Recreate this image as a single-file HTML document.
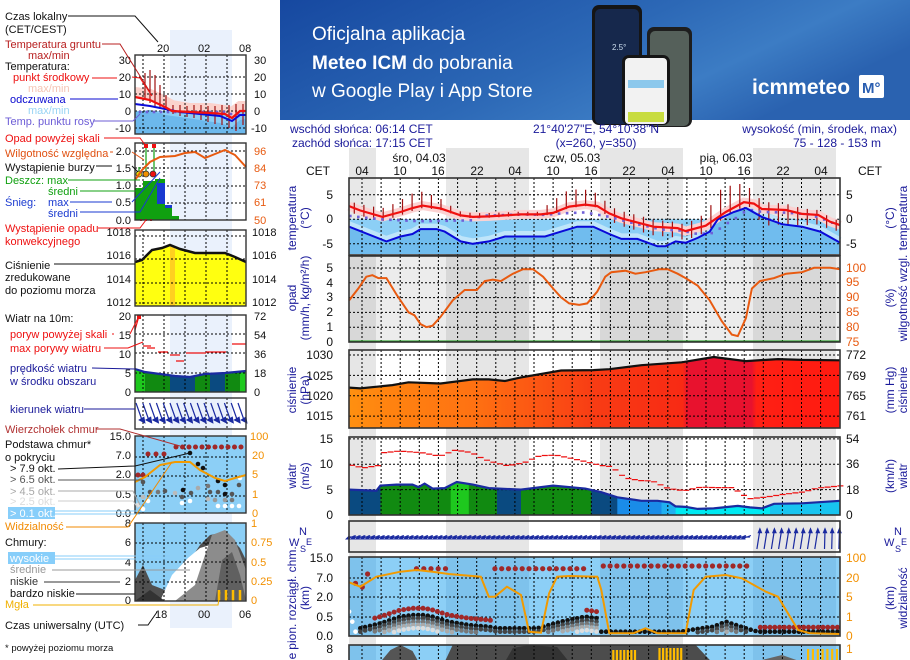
<!DOCTYPE html>
<html><head><meta charset="utf-8">
<style>
body{margin:0;width:910px;height:660px;overflow:hidden;background:#fff}
svg{display:block;font-family:"Liberation Sans",sans-serif}
.t{font-size:12px}
.l{font-size:11px}
</style></head><body>
<svg id="s" width="910" height="660" xmlns="http://www.w3.org/2000/svg">
<defs>
<linearGradient id="bn" x1="0" x2="1" y1="0" y2="0.4"><stop offset="0" stop-color="#1648a0"/><stop offset="0.55" stop-color="#2c68b6"/><stop offset="0.8" stop-color="#3c7cc4"/><stop offset="1" stop-color="#2a62b0"/></linearGradient>
<linearGradient id="pg" x1="349" x2="840" y1="0" y2="0" gradientUnits="userSpaceOnUse">
<stop offset="0" stop-color="#ff9010"/><stop offset="0.07" stop-color="#ff8410"/><stop offset="0.25" stop-color="#ff7212"/><stop offset="0.5" stop-color="#f83c14"/><stop offset="0.68" stop-color="#f82a14"/><stop offset="0.69" stop-color="#e8122e"/><stop offset="0.82" stop-color="#e8122e"/><stop offset="0.83" stop-color="#ff2014"/><stop offset="1" stop-color="#ff1a10"/></linearGradient>
<clipPath id="wc"><polygon id="wpoly" points=""/></clipPath>
</defs>
<g id="g"></g>

<rect x="280" y="0" width="630" height="120" fill="url(#bn)"/>
<text x="312" y="40" fill="#fff" font-size="19">Oficjalna aplikacja</text>
<text x="312" y="69" fill="#fff" font-size="19"><tspan font-weight="bold">Meteo ICM</tspan> do pobrania</text>
<text x="312" y="97" fill="#fff" font-size="19">w Google Play i App Store</text>
<rect x="592" y="5" width="50" height="120" rx="7" fill="#151515"/>
<rect x="595" y="9" width="44" height="115" rx="5" fill="#16284c"/>
<text x="612" y="50" fill="#cde" font-size="8">2.5°</text>
<rect x="647" y="27" width="45" height="100" rx="7" fill="#1e1e1e"/>
<rect x="650" y="31" width="39" height="95" rx="5" fill="#55605a"/>
<rect x="622" y="55" width="48" height="70" rx="7" fill="#151515"/>
<rect x="625" y="58" width="42" height="66" rx="4" fill="#f2f2f2"/>
<rect x="628" y="80" width="36" height="8" fill="#8cc8ec"/>
<rect x="628" y="112" width="36" height="10" fill="#c8dc40"/>
<text x="752" y="94" fill="#fff" font-size="21" font-weight="bold">icmmeteo</text>
<rect x="859" y="75" width="25" height="23" rx="2" fill="#fff"/>
<text x="862" y="93" fill="#2a5eb0" font-size="15" font-weight="bold">M°</text>

<g class="t" fill="#1a1a9a">
<text x="290" y="133">wschód słońca: 06:14 CET</text>
<text x="292" y="147">zachód słońca: 17:15 CET</text>
<text x="596" y="133" text-anchor="middle">21°40'27"E, 54°10'38"N</text>
<text x="596" y="147" text-anchor="middle">(x=260,  y=350)</text>
<text x="897" y="133" text-anchor="end">wysokość (min, środek, max)</text>
<text x="837" y="147" text-anchor="middle">75 - 128 - 153 m</text>
</g>
<g class="t" fill="#111" text-anchor="middle">
<text x="419" y="162">śro, 04.03</text><text x="572" y="162">czw, 05.03</text><text x="726" y="162">pią, 06.03</text>
<text x="318" y="175">CET</text><text x="870" y="175">CET</text>
<text x="362" y="175">04</text><text x="400" y="175">10</text><text x="438" y="175">16</text><text x="477" y="175">22</text><text x="515" y="175">04</text><text x="553" y="175">10</text><text x="591" y="175">16</text><text x="629" y="175">22</text><text x="668" y="175">04</text><text x="706" y="175">10</text><text x="744" y="175">16</text><text x="783" y="175">22</text><text x="821" y="175">04</text>
</g>

<g class="t" fill="#111" text-anchor="end">
<text x="333" y="199">5</text><text x="333" y="223">0</text><text x="333" y="248">-5</text>
<text x="333" y="272">5</text><text x="333" y="287">4</text><text x="333" y="301">3</text><text x="333" y="316">2</text><text x="333" y="331">1</text><text x="333" y="346">0</text>
<text x="333" y="359">1030</text><text x="333" y="380">1025</text><text x="333" y="400">1020</text><text x="333" y="420">1015</text>
<text x="333" y="443">15</text><text x="333" y="468">10</text><text x="333" y="494">5</text><text x="333" y="519">0</text>
<text x="333" y="562">15.0</text><text x="333" y="582">7.0</text><text x="333" y="601">2.0</text><text x="333" y="621">0.5</text><text x="333" y="640">0.0</text>
<text x="333" y="653">8</text>
</g>
<g class="t" fill="#111">
<text x="846" y="199">5</text><text x="846" y="223">0</text><text x="846" y="248">-5</text>
<text x="846" y="359">772</text><text x="846" y="380">769</text><text x="846" y="400">765</text><text x="846" y="420">761</text>
<text x="846" y="443">54</text><text x="846" y="468">36</text><text x="846" y="494">18</text><text x="846" y="519">0</text>
</g>
<g class="t" fill="#e85a10">
<text x="846" y="272">100</text><text x="846" y="286">95</text><text x="846" y="301">90</text><text x="846" y="316">85</text><text x="846" y="331">80</text><text x="846" y="346">75</text>
</g>
<g class="t" fill="#f29000">
<text x="846" y="562">100</text><text x="846" y="582">20</text><text x="846" y="601">5</text><text x="846" y="621">1</text><text x="846" y="640">0</text><text x="846" y="653">1</text>
</g>
<g class="t" fill="#1a1a9a" text-anchor="middle" dominant-baseline="central">
<text transform="translate(292,218) rotate(-90)">temperatura</text>
<text transform="translate(305,218) rotate(-90)">(°C)</text>
<text transform="translate(890,218) rotate(-90)">(°C)</text>
<text transform="translate(903,218) rotate(-90)">temperatura</text>
<text transform="translate(292,298) rotate(-90)">opad</text>
<text transform="translate(305,298) rotate(-90)">(mm/h, kg/m²/h)</text>
<text transform="translate(890,298) rotate(-90)">(%)</text>
<text transform="translate(903,298) rotate(-90)">wilgotność wzgl.</text>
<text transform="translate(292,390) rotate(-90)">ciśnienie</text>
<text transform="translate(305,390) rotate(-90)">(hPa)</text>
<text transform="translate(890,390) rotate(-90)">(mm Hg)</text>
<text transform="translate(903,390) rotate(-90)">ciśnienie</text>
<text transform="translate(292,476) rotate(-90)">wiatr</text>
<text transform="translate(305,476) rotate(-90)">(m/s)</text>
<text transform="translate(890,476) rotate(-90)">(km/h)</text>
<text transform="translate(903,476) rotate(-90)">wiatr</text>
<text transform="translate(292,598) rotate(-90)">pion. rozciągł. chm.</text>
<text transform="translate(305,598) rotate(-90)">(km)</text>
<text transform="translate(890,598) rotate(-90)">(km)</text>
<text transform="translate(903,598) rotate(-90)">widzialność</text>
<text transform="translate(292,656) rotate(-90)">e</text>
</g>
<g fill="#1a1a9a" font-size="11">
<text x="289" y="546">W</text><text x="299" y="535">N</text><text x="300" y="552" font-size="9">S</text><text x="306" y="545" font-size="9">E</text>
<text x="884" y="546">W</text><text x="894" y="535">N</text><text x="895" y="552" font-size="9">S</text><text x="901" y="545" font-size="9">E</text>
</g>

<g class="l">
<text x="5" y="20" fill="#111">Czas lokalny</text>
<text x="5" y="33" fill="#111">(CET/CEST)</text>
<text x="5" y="48" fill="#b82020">Temperatura gruntu</text>
<text x="28" y="59" fill="#b82020">max/min</text>
<text x="5" y="70" fill="#111">Temperatura:</text>
<text x="13" y="81" fill="#ee1010">punkt środkowy</text>
<text x="28" y="92" fill="#f5c4b4">max/min</text>
<text x="10" y="103" fill="#0a0ad0">odczuwana</text>
<text x="28" y="114" fill="#98d4f4">max/min</text>
<text x="5" y="125" fill="#6c5cd6">Temp. punktu rosy</text>
<text x="5" y="142" fill="#ee1010">Opad powyżej skali</text>
<text x="5" y="157" fill="#e05010">Wilgotność względna</text>
<text x="5" y="171" fill="#111">Wystąpienie burzy</text>
<text x="5" y="184" fill="#10a010">Deszcz: max</text>
<text x="48" y="195" fill="#10a010">średni</text>
<text x="5" y="206" fill="#1a3ad0">Śnieg:</text>
<text x="48" y="206" fill="#1a3ad0">max</text>
<text x="48" y="217" fill="#1a3ad0">średni</text>
<text x="5" y="232" fill="#ee1010">Wystąpienie opadu</text>
<text x="5" y="245" fill="#ee1010">konwekcyjnego</text>
<text x="5" y="269" fill="#111">Ciśnienie</text>
<text x="5" y="281" fill="#111">zredukowane</text>
<text x="5" y="294" fill="#111">do poziomu morza</text>
<text x="5" y="322" fill="#111">Wiatr na 10m:</text>
<text x="10" y="338" fill="#ee1010">poryw powyżej skali</text>
<text x="10" y="352" fill="#ee1010">max porywy wiatru</text>
<text x="10" y="372" fill="#1a1a9a">prędkość wiatru</text>
<text x="10" y="385" fill="#1a1a9a">w środku obszaru</text>
<text x="10" y="413" fill="#1a1a9a">kierunek wiatru</text>
<text x="5" y="433" fill="#b03030">Wierzchołek chmur</text>
<text x="5" y="448" fill="#111">Podstawa chmur*</text>
<text x="5" y="461" fill="#111">o pokryciu</text>
<text x="10" y="472" fill="#111">&gt; 7.9 okt.</text>
<text x="10" y="483" fill="#555">&gt; 6.5 okt.</text>
<text x="10" y="495" fill="#a8a8a8">&gt; 4.5 okt.</text>
<text x="10" y="505" fill="#dcdcdc">&gt; 2.5 okt.</text>
<rect x="8" y="507" width="47" height="12" fill="#87cefa"/>
<text x="10" y="517" fill="#fff">&gt; 0.1 okt.</text>
<text x="5" y="530" fill="#f28a00">Widzialność</text>
<text x="5" y="546" fill="#111">Chmury:</text>
<rect x="8" y="552" width="47" height="12" fill="#87cefa"/>
<text x="10" y="562" fill="#fff">wysokie</text>
<text x="10" y="573" fill="#999">średnie</text>
<text x="10" y="585" fill="#333">niskie</text>
<text x="10" y="597" fill="#111">bardzo niskie</text>
<text x="5" y="608" fill="#f0b000">Mgła</text>
<text x="5" y="629" fill="#111">Czas uniwersalny (UTC)</text>
<text x="5" y="651" fill="#111" font-size="9.5">* powyżej poziomu morza</text>
</g>
<g class="l" fill="#111" text-anchor="end">
<text x="131" y="64">30</text><text x="131" y="81">20</text><text x="131" y="98">10</text><text x="131" y="115">0</text><text x="131" y="132">-10</text>
<text x="131" y="155">2.0</text><text x="131" y="172">1.5</text><text x="131" y="189">1.0</text><text x="131" y="206">0.5</text><text x="131" y="224">0.0</text>
<text x="131" y="236">1018</text><text x="131" y="259">1016</text><text x="131" y="283">1014</text><text x="131" y="306">1012</text>
<text x="131" y="320">20</text><text x="131" y="339">15</text><text x="131" y="358">10</text><text x="131" y="377">5</text><text x="131" y="396">0</text>
<text x="131" y="440">15.0</text><text x="131" y="459">7.0</text><text x="131" y="478">2.0</text><text x="131" y="498">0.5</text><text x="131" y="517">0.0</text>
<text x="131" y="527">8</text><text x="131" y="546">6</text><text x="131" y="566">4</text><text x="131" y="585">2</text><text x="131" y="604">0</text>
</g>
<g class="l" fill="#111">
<text x="254" y="64">30</text><text x="254" y="81">20</text><text x="254" y="98">10</text><text x="254" y="115">0</text><text x="251" y="132">-10</text>
<text x="252" y="236">1018</text><text x="252" y="259">1016</text><text x="252" y="283">1014</text><text x="252" y="306">1012</text>
<text x="254" y="320">72</text><text x="254" y="339">54</text><text x="254" y="358">36</text><text x="254" y="377">18</text><text x="254" y="396">0</text>
<text x="157" y="52">20</text><text x="198" y="52">02</text><text x="239" y="52">08</text>
<text x="155" y="618">18</text><text x="198" y="618">00</text><text x="239" y="618">06</text>
</g>
<g class="l" fill="#e85a10">
<text x="254" y="155">96</text><text x="254" y="172">84</text><text x="254" y="189">73</text><text x="254" y="206">61</text><text x="254" y="224">50</text>
</g>
<g class="l" fill="#f29000">
<text x="250" y="440">100</text><text x="252" y="459">20</text><text x="252" y="478">5</text><text x="252" y="498">1</text><text x="252" y="517">0</text>
<text x="251" y="527">1</text><text x="251" y="546">0.75</text><text x="251" y="566">0.5</text><text x="251" y="585">0.25</text><text x="251" y="604">0</text>
</g>
<g fill="none" stroke-width="1">
<polyline points="68,16 135,16 158,42" stroke="#111"/>
<polyline points="102,44 120,44 150,92" stroke="#b82020"/>
<polyline points="92,78 117,78" stroke="#ee1010"/>
<polyline points="132,77 140,78 152,96" stroke="#ee1010"/>
<polyline points="70,99 118,99" stroke="#0a0ad0"/>
<polyline points="94,121 133,121 140,114" stroke="#6c5cd6"/>
<polyline points="104,138 140,138 146,146" stroke="#ee1010"/>
<polyline points="110,152 113,152" stroke="#e05010"/><polyline points="132,152 144,160" stroke="#e05010"/>
<polyline points="96,166 112,166" stroke="#111"/><polyline points="132,166 138,172" stroke="#111"/>
<polyline points="68,180 140,180" stroke="#10a010"/>
<polyline points="80,191 146,191" stroke="#10a010"/>
<polyline points="70,202 112,202" stroke="#1a3ad0"/><polyline points="132,202 160,172" stroke="#1a3ad0"/>
<polyline points="80,212 140,212 160,178" stroke="#1a3ad0"/>
<polyline points="98,228 140,228 146,220" stroke="#ee1010"/>
<polyline points="54,264 135,264" stroke="#111"/>
<polyline points="112,334 114,334" stroke="#ee1010"/><polyline points="130,334 138,318" stroke="#ee1010"/>
<polyline points="104,348 128,348 143,342" stroke="#ee1010"/>
<polyline points="92,368 135,369" stroke="#1a1a9a"/>
<polyline points="84,409 135,409" stroke="#1a1a9a"/>
<polyline points="96,429 120,429 180,446" stroke="#b03030"/>
<polyline points="58,469 135,466 190,453" stroke="#111"/>
<polyline points="58,480 143,480" stroke="#555"/>
<polyline points="58,491 133,491 140,505" stroke="#a8a8a8"/>
<polyline points="58,501 133,501 138,508" stroke="#ccc"/>
<polyline points="55,511 140,511" stroke="#87cefa"/><polyline points="55,514 140,514" stroke="#87cefa"/>
<polyline points="66,527 128,527 172,462" stroke="#f28a00"/>
<polyline points="55,556 170,556" stroke="#87cefa"/><polyline points="55,559 170,559" stroke="#87cefa"/>
<polyline points="52,570 190,570" stroke="#999"/>
<polyline points="44,582 120,582" stroke="#333"/>
<polyline points="76,594 135,594" stroke="#111"/>
<polyline points="33,605 218,605 220,592" stroke="#f0b000"/>
<polyline points="138,625 148,625 157,612" stroke="#111"/>
</g>
</svg>
<script>
const G=document.getElementById('g');
let H='';
function A(s){H+=s;}
const X=z=>280+z/2.49, T=t=>362+t*6.37;
function I(a,z){if(z<=a[0][0])return a[0][1];for(let i=1;i<a.length;i++){if(z<=a[i][0]){const f=(z-a[i-1][0])/(a[i][0]-a[i-1][0]);return a[i-1][1]+f*(a[i][1]-a[i-1][1]);}}return a[a.length-1][1];}
function P(a,fy){return a.map(p=>X(p[0]).toFixed(1)+','+fy(p[1]).toFixed(1)).join(' ');}
const bands=[[349,376],[446,529],[600,683],[753,836]];
bands.forEach(b=>A(`<rect x="${b[0]}" y="148" width="${b[1]-b[0]}" height="512" fill="#e6e6e6"/>`));
A(`<rect x="170" y="30" width="62" height="598" fill="#eaf1fc"/>`);
function panel(y0,y1,bg,band){A(`<rect x="349" y="${y0}" width="491" height="${y1-y0}" fill="${bg}"/>`);bands.forEach(b=>A(`<rect x="${b[0]}" y="${y0}" width="${b[1]-b[0]}" height="${y1-y0}" fill="${band}"/>`));}
function grid(y0,y1,hs){let d='';for(let t=0;t<=72;t+=3){const x=T(t);d+=`M${x.toFixed(1)},${y0}V${y1}`;}hs.forEach(y=>d+=`M349,${y.toFixed(1)}H840`);A(`<path d="${d}" stroke="#000" stroke-width="1" stroke-dasharray="2,2" fill="none"/>`);}
function frame(y0,y1){A(`<rect x="349" y="${y0}" width="491" height="${y1-y0}" fill="none" stroke="#333" stroke-width="1.6"/>`);}
const TY=v=>219.3-v*4.9;
panel(178,255,'#fff','#e8e8e8');
const R=[[172,2.7],[200,1.8],[255,0.5],[300,1.5],[330,2.3],[355,2.8],[400,2.2],[450,0.8],[480,0.5],[520,0.6],[600,1.0],[650,1.0],[680,1.3],[720,2.6],[760,3.0],[790,2.7],[820,1.2],[850,0.2],[930,-1.5],[990,-1.8],[1010,-2.4],[1060,-1.3],[1110,1.5],[1155,3.5],[1180,3.2],[1200,2.1],[1260,1.9],[1300,1.1],[1340,0.9],[1370,-0.5],[1395,-1.2]];
const B=[[172,-1.5],[265,-4.5],[300,-3.5],[330,-3.0],[350,-2.0],[390,-2.0],[410,-2.5],[450,-4.5],[480,-5.0],[520,-4.5],[560,-3.5],[620,-3.5],[660,-3.5],[700,-2.5],[740,-1.5],[780,-1.5],[820,-3.0],[850,-4.0],[890,-4.0],[940,-5.5],[960,-5.5],[985,-4.5],[1010,-4.8],[1040,-3.8],[1070,-2.5],[1090,0],[1130,1.5],[1160,2.3],[1200,0.5],[1250,-1.0],[1300,-1.5],[1345,-2.5],[1395,-4.8]];
const D=[[172,0.7],[250,0],[350,-0.4],[480,-0.2],[500,0.7],[600,1.0],[660,0.9],[700,1.2],[760,1.4],[820,0.5],[880,-0.8],[950,-2.1],[1000,-2.3],[1040,-3.0],[1080,-2.8],[1110,-1],[1140,0.5],[1165,2],[1200,1.5],[1250,1.4],[1320,1.0],[1370,-0.5],[1395,-1.5]];
const Bmax=B.map(p=>[p[0],Math.max(p[1]+1.2,0)]);
A(`<polygon points="349,${TY(0)} ${P(Bmax,TY)} 840,${TY(0)} 840,254 349,254" fill="#8ccff6"/>`);
A(`<polyline points="${P(B,v=>TY(v)-3)}" fill="none" stroke="#bfe5fa" stroke-width="5"/>`);
A(`<polygon points="349,254 ${P(B,TY)} 840,254" fill="#70bcee"/>`);
grid(178,255,[TY(5),TY(0),TY(-5)]);
A(`<polyline points="${P(R,TY)}" fill="none" stroke="#fbd2d2" stroke-width="9"/>`);
const AU=[[172,1],[280,2],[330,3],[360,2.8],[400,2],[440,0.8],[640,0.5],[680,2.5],[720,3.5],[780,2.8],[830,1.5],[900,1.5],[1000,1.2],[1060,2.5],[1100,5.5],[1150,4],[1200,1.5],[1395,0.8]];
const AD=[[172,1.2],[400,0.3],[800,0.3],[830,1.5],[1000,2],[1100,1],[1180,0.8],[1200,3.5],[1395,1.3]];
let d='';for(let z=185;z<1395;z+=24){const x=X(z).toFixed(1),r=I(R,z);d+=`M${x},${TY(r+I(AU,z)).toFixed(1)}V${TY(r-I(AD,z)).toFixed(1)}`;}
A(`<path d="${d}" stroke="#a01010" stroke-width="1.2"/>`);
for(let z=175;z<1395;z+=20){A(`<rect x="${(X(z)-1.3).toFixed(1)}" y="${(TY(I(D,z))-1.3).toFixed(1)}" width="2.6" height="2.6" fill="#7060d8"/>`);}
A(`<polyline points="${P(B,TY)}" fill="none" stroke="#0a0ad8" stroke-width="2"/>`);
A(`<polyline points="${P(R,TY)}" fill="none" stroke="#f01010" stroke-width="2.2"/>`);
frame(178,255);
const HY=h=>342-(h-75)*2.97;
panel(256,342,'#ececec','#d8d8d8');
grid(256,342,[1,2,3,4,5].map(v=>342-v*14.8));
const Hu=[[172,89],[195,93],[215,97],[230,97.5],[245,96.5],[265,96.5],[290,91],[320,85],[335,84],[350,81],[365,80],[380,80.5],[400,83.5],[430,89],[460,92.5],[490,92.5],[510,95.5],[530,96],[550,95.5],[580,98],[605,99.5],[630,99.5],[655,97],[680,93],[700,90],[720,88],[745,87.5],[765,88],[790,92],[810,97],[825,98.5],[860,99],[885,98],[910,98.5],[945,99.5],[965,99.5],[990,98],[1010,96.5],[1040,94],[1070,89],[1100,82],[1125,77.5],[1140,77],[1160,83],[1175,93],[1195,95.5],[1230,96.5],[1260,98],[1300,98.5],[1330,100],[1370,100],[1395,99.5]];
A(`<line x1="349" y1="341" x2="840" y2="341" stroke="#10a010" stroke-width="1"/>`);
A(`<polyline points="${P(Hu,HY)}" fill="none" stroke="#e85a10" stroke-width="2"/>`);
frame(256,342);
const PY=p=>355+(1030-p)*4.07;
panel(350,428,'#fff','#e6e6e6');
const Pr=[[172,1022],[200,1021.8],[280,1022.6],[320,1023.3],[400,1023],[480,1024],[520,1024],[560,1023.6],[600,1024.5],[700,1026.2],[780,1026.3],[820,1026.5],[900,1027.5],[1000,1028.2],[1080,1029.5],[1160,1028.5],[1240,1029],[1300,1028.8],[1395,1028.7]];
A(`<polygon points="349,428 ${P(Pr,PY)} 840,428" fill="url(#pg)"/>`);
grid(350,428,[PY(1030),PY(1025),PY(1020),PY(1015)]);
A(`<polyline points="${P(Pr,PY)}" fill="none" stroke="#111" stroke-width="2.2"/>`);
frame(350,428);
const WY=v=>515-v*5.07;
panel(437,515,'#fff','#e6e6e6');
const Ws=[[172,5],[240,4.8],[250,5.8],[290,6.0],[330,6.0],[345,5.5],[360,6.2],[380,5.2],[410,5.3],[440,6.5],[480,6.0],[520,5.3],[600,5.0],[680,5.8],[760,5.2],[800,4.5],[840,3.5],[900,2.8],[940,2.8],[970,2.5],[985,1.7],[1010,1.6],[1040,1.2],[1080,1.3],[1140,1.8],[1170,1.5],[1200,1.3],[1230,2.2],[1300,2.3],[1395,2.8]];
document.getElementById('wpoly').setAttribute('points',`349,515 ${P(Ws,WY)} 840,515`);
const wc=[[172,250,'#0a4a80'],[250,425,'#118a11'],[425,470,'#1ec81e'],[470,540,'#118a11'],[540,600,'#0a4a80'],[600,775,'#118a11'],[775,840,'#0a4a80'],[840,950,'#1a8ce8'],[950,985,'#20b0f0'],[985,1220,'#00eaf2'],[1220,1400,'#18c4f0']];
A('<g clip-path="url(#wc)">');wc.forEach(c=>A(`<rect x="${X(c[0]).toFixed(1)}" y="437" width="${(X(c[1])-X(c[0])+0.5).toFixed(1)}" height="78" fill="${c[2]}"/>`));A('</g>');
grid(437,515,[WY(15),WY(10),WY(5)]);
A(`<polyline points="${P(Ws,WY)}" fill="none" stroke="#1a2aa0" stroke-width="2.2"/>`);
const Gu=[[172,9.8],[200,9.3],[240,9.8],[250,12.3],[290,12.6],[345,12.3],[390,11.6],[430,12.8],[470,12.3],[500,11.0],[520,10.5],[560,9.7],[600,10.3],[640,11.7],[680,11.8],[740,10.8],[790,9.8],[820,9.5],[840,8.0],[860,7.2],[890,6.8],[920,6.7],[960,5.2],[1000,4.8],[1040,5.5],[1080,5.4],[1120,5.4],[1160,3.2],[1200,3.5],[1240,4.0],[1300,4.6],[1330,5.3],[1395,5.8]];
d='';for(let z=172;z<1395;z+=16){d+=`M${X(z).toFixed(1)},${WY(I(Gu,z)).toFixed(1)}h6`;}
A(`<path d="${d}" stroke="#ee1010" stroke-width="1.2"/>`);
frame(437,515);
panel(521,552,'#fff','#e6e6e6');
d='';let hd='';
for(let z=176;z<1170;z+=12){const x=X(z),y=537;d+=`M${(x+5).toFixed(1)},${y-1.5}L${(x-3).toFixed(1)},${y+1.5}`;hd+=`M${(x-5).toFixed(1)},${y+2.2}l3.5,-3.5l0.8,3.5z`;}
for(let z=1195;z<1400;z+=18){const x=X(z),tl=z<1340?3:0.5;d+=`M${(x-tl).toFixed(1)},549L${x.toFixed(1)},530`;hd+=`M${(x-2).toFixed(1)},533l2,-5l2,5z`;}
d+=`M349,537H${X(1170).toFixed(1)}`;
A(`<path d="${d}" stroke="#1a2aa0" stroke-width="1.2" fill="none"/><path d="${hd}" fill="#1a2aa0" stroke="#1a2aa0" stroke-width="0.6"/>`);
frame(521,552);
const CY=z=>350+z/3;
panel(557,636,'#8ccff6','#7ec2ec');
grid(557,636,[578,597,617]);
const Vi=[[172,697],[200,710],[240,680],[300,665],[340,660],[380,665],[420,672],[500,680],[520,740],[535,740],[565,710],[600,735],[620,845],[650,848],[670,730],[690,680],[720,678],[790,680],[800,720],[820,850],[880,850],[910,835],[940,850],[1010,850],[1030,720],[1060,680],[1110,675],[1150,685],[1210,725],[1240,740],[1270,800],[1290,840],[1320,850],[1395,852]];
const K=[[200,835],[250,820],[300,800],[330,795],[360,795],[380,800],[420,815],[470,825],[520,830],[540,835],[620,835],[640,835],[700,815],[760,800],[790,805],[800,845],[1000,845],[1020,840],[1080,830],[1110,815],[1160,835],[1190,845],[1395,845]];
const cols=['#111','#444','#777','#aaa','#ddd'];
for(let z=200;z<1395;z+=12){let y=I(K,z);const n=Math.min(5,Math.max(1,Math.round((852-y)/10)));for(let i=0;i<n;i++){const c=cols[i];A(`<circle cx="${X(z).toFixed(1)}" cy="${CY(y+i*10).toFixed(1)}" r="2.3" fill="${c}"/>`);}
 if((z>235&&z<525)||(z>755&&z<795))A(`<circle cx="${X(z).toFixed(1)}" cy="${CY(I(K,z)-20).toFixed(1)}" r="2.5" fill="#a02828"/>`);
 if(z>1190)A(`<circle cx="${X(z).toFixed(1)}" cy="${CY(832).toFixed(1)}" r="2.5" fill="#a02828"/>`);}
[[172,785],[180,815],[188,845]].forEach(p=>A(`<circle cx="${X(p[0])}" cy="${CY(p[1])}" r="2.3" fill="#fff"/>`));
function reds(a,b,zy,st){for(let z=a;z<=b;z+=st)A(`<circle cx="${X(z).toFixed(1)}" cy="${CY(zy).toFixed(1)}" r="2.6" fill="#a02828"/>`);}
reds(340,415,656,18);reds(535,760,656,17);reds(805,1175,648,17);
[[188,700],[205,711],[218,672]].forEach(p=>A(`<circle cx="${X(p[0]).toFixed(1)}" cy="${CY(p[1]).toFixed(1)}" r="2.6" fill="#a02828"/>`));
A(`<polyline points="${P(Vi,CY)}" fill="none" stroke="#f29a00" stroke-width="2"/>`);
frame(557,636);
panel(645,662,'#8ccff6','#7ec2ec');
A(`<polygon points="${X(250)},662 ${X(275)},650 ${X(300)},645 ${X(330)},651 ${X(345)},662" fill="#555"/>`);
A(`<polygon points="${X(410)},662 ${X(430)},645 ${X(1035)},645 ${X(1075)},662" fill="#4c4c4c"/>`);
A(`<polygon points="${X(560)},662 ${X(580)},648 ${X(620)},645 ${X(690)},647 ${X(720)},662" fill="#333"/>`);
A(`<polygon points="${X(1180)},662 ${X(1250)},655 ${X(1300)},662" fill="#666"/>`);
grid(645,662,[]);
d='';[[830,890,9],[945,1000,9],[1315,1395,12]].forEach(r=>{for(let z=r[0];z<=r[1];z+=r[2])d+=`M${X(z).toFixed(1)},662V${(648+(z%3)).toFixed(1)}`;});
A(`<path d="${d}" stroke="#ffbc00" stroke-width="2.2"/>`);
frame(645,662);

function lgrid(y0,y1,hs){let d='';[143,164,185,206,227].forEach(x=>d+=`M${x},${y0}V${y1}`);hs.forEach(y=>d+=`M135,${y}H246`);A(`<path d="${d}" stroke="#000" stroke-dasharray="2,2" fill="none"/>`);}
function lframe(y0,y1){A(`<rect x="135" y="${y0}" width="111" height="${y1-y0}" fill="none" stroke="#333" stroke-width="1.4"/>`);}
A(`<rect x="135" y="55" width="111" height="79" fill="#fff"/><rect x="170" y="55" width="62" height="79" fill="#eaf1fc"/>`);
A(`<polygon points="135,111 135,134 246,134 246,111" fill="#8ccff6"/>`);
A(`<polygon points="135,112 150,110 165,115 180,117 200,120 220,123 232,127 240,120 246,119 246,134 135,134" fill="#6cb8ec"/>`);
A(`<polyline points="135,92 150,94 165,101 172,105 190,108 210,108 225,110 232,112 240,106 246,106" fill="none" stroke="#fbd2cc" stroke-width="10"/>`);
lgrid(55,134,[77,94,111,128]);
d='';[[145,73,100],[150,70,103],[155,75,106],[160,85,108],[166,95,110],[173,105,114],[180,105,116],[187,106,117],[194,105,118],[201,105,120],[208,106,122],[215,106,124],[222,105,125],[229,105,128],[236,104,131],[243,104,125]].forEach(p=>d+=`M${p[0]},${p[1]}V${p[2]}`);
A(`<path d="${d}" stroke="#a01010" stroke-width="1.2"/>`);
for(let x=140;x<245;x+=7)A(`<rect x="${x-1.3}" y="${112-1.3+(x>225?2:0)}" width="2.6" height="2.6" fill="#7060d8"/>`);
A(`<polyline points="135,104 150,106 165,109 180,112 200,114 220,116 232,121 240,115 246,115" fill="none" stroke="#0a0ad8" stroke-width="2"/>`);
A(`<polyline points="135,97 150,100 165,107 172,111 190,112 210,113 225,114 232,118 240,111 246,111" fill="none" stroke="#f01010" stroke-width="2.2"/>`);
lframe(55,134);
A(`<rect x="135" y="143" width="111" height="77" fill="#fff"/><rect x="170" y="143" width="62" height="77" fill="#eaf1fc"/>`);
lgrid(143,220,[151,168,186,203]);
A(`<polygon points="135,220 135,188 143,188 143,181 155,181 155,179 165,179 165,220" fill="#10a010"/>`);
A(`<rect x="157" y="183" width="8" height="21" fill="#1a3ad0"/><rect x="165" y="205" width="7" height="15" fill="#10a010"/><rect x="165" y="205" width="7" height="3" fill="#1a3ad0"/><rect x="172" y="216" width="7" height="4" fill="#10a010"/>`);
A(`<path d="M146,147V175M154,147V175M139,167V175" stroke="#10a010" stroke-width="1.2"/>`);
A(`<rect x="144" y="144" width="4" height="4" fill="#ee1010"/><rect x="152" y="144" width="4" height="4" fill="#ee1010"/>`);
A(`<circle cx="139" cy="174" r="3" fill="#f0e000" stroke="#333" stroke-width="0.8"/><circle cx="146" cy="174" r="3" fill="#f09000" stroke="#333" stroke-width="0.8"/><circle cx="153" cy="174" r="3" fill="#ee1010" stroke="#333" stroke-width="0.8"/>`);
A(`<path d="M140,220h2M145,220h2M150,220h2" stroke="#ee1010" stroke-width="2"/>`);
A(`<polyline points="135,180 142,170 150,162 160,157 175,156 185,153 195,152 205,158 215,154 225,150 235,155 246,167" fill="none" stroke="#e85a10" stroke-width="2"/>`);
lframe(143,220);
A(`<rect x="135" y="230" width="111" height="76" fill="#fff"/><rect x="170" y="230" width="62" height="76" fill="#eaf1fc"/>`);
A(`<polygon points="135,306 135,262 142,260 152,250 162,248 170,245 180,249 195,253 210,253 225,253 235,257 246,262 246,306" fill="#ffff10"/>`);
A(`<rect x="170" y="246" width="5" height="60" fill="#ffd020"/>`);
lgrid(230,306,[236,259,283,303]);
A(`<polyline points="135,262 142,260 152,250 162,248 170,245 180,249 195,253 210,253 225,253 235,257 246,262" fill="none" stroke="#111" stroke-width="2.5"/>`);
lframe(230,306);
A(`<rect x="135" y="315" width="111" height="77" fill="#fff"/><rect x="170" y="315" width="62" height="77" fill="#eaf1fc"/>`);
A(`<clipPath id="lwc"><polygon points="135,392 135,369 145,372 160,374 175,376 190,377 205,374 225,373 246,371 246,392"/></clipPath>`);
A('<g clip-path="url(#lwc)">');[[135,145,'#1ec81e'],[145,170,'#118a11'],[170,195,'#0a4a80'],[195,210,'#118a11'],[210,225,'#0a4a80'],[225,240,'#118a11'],[240,246,'#1ec81e']].forEach(c=>A(`<rect x="${c[0]}" y="360" width="${c[1]-c[0]}" height="32" fill="${c[2]}"/>`));A('</g>');
lgrid(315,392,[334,353,373]);
A(`<polyline points="135,369 145,372 160,374 175,376 190,377 205,374 225,373 246,371" fill="none" stroke="#1a2aa0" stroke-width="2.2"/>`);
A(`<path d="M135,330L139,316M143,346h8M147,348h8M158,352h10M170,355h10M176,361h8M186,353h20M206,352h20M232,344h14" stroke="#ee1010" stroke-width="1.2"/><rect x="137" y="315" width="4" height="4" fill="#ee1010"/>`);
lframe(315,392);
A(`<rect x="135" y="398" width="111" height="31" fill="#fff"/><rect x="170" y="398" width="62" height="31" fill="#eaf1fc"/>`);
lgrid(398,429,[]);
d='';hd='';for(let x=138;x<246;x+=6.8){d+=`M${(x-2).toFixed(1)},403L${(x+4).toFixed(1)},420`;hd+=`M${(x+1).toFixed(1)},420l5,-3l1,6z`;}
A(`<path d="${d}" stroke="#1a2aa0" stroke-width="1.2"/><path d="${hd}" fill="#1a2aa0" stroke="#1a2aa0" stroke-width="0.8"/>`);
lframe(398,429);
A(`<rect x="135" y="436" width="111" height="77" fill="#8ccff6"/>`);
lgrid(436,513,[457,476,496]);
[[148,454],[156,454],[164,454],[138,475],[143,475]].forEach(p=>A(`<circle cx="${p[0]}" cy="${p[1]}" r="2.5" fill="#a02828"/>`));
for(let x=176;x<247;x+=6.5)A(`<circle cx="${x}" cy="447" r="2.5" fill="#a02828"/>`);
[[190,453,'#111'],[198,464,'#111'],[203,468,'#111'],[218,481,'#111'],[225,485,'#111'],[143,482,'#555'],[150,492,'#555'],[158,492,'#777'],[165,491,'#555'],[175,493,'#bbb'],[183,490,'#111'],[191,493,'#555'],[198,488,'#aaa'],[208,486,'#777'],[210,492,'#555'],[218,492,'#555'],[225,494,'#111'],[232,494,'#555'],[239,485,'#555'],[240,478,'#fff'],[182,497,'#555'],[182,503,'#fff'],[190,501,'#fff'],[143,497,'#bbb'],[148,501,'#fff'],[208,499,'#bbb'],[215,500,'#999'],[225,500,'#999'],[232,500,'#777'],[218,506,'#fff'],[225,506,'#fff'],[232,506,'#fff'],[239,506,'#fff'],[138,505,'#ddd'],[143,509,'#fff']].forEach(p=>A(`<circle cx="${p[0]}" cy="${p[1]}" r="2.3" fill="${p[2]}"/>`));
A(`<polyline points="135,482 145,477 160,465 175,462 190,462 200,470 215,478 225,481 235,478 246,475" fill="none" stroke="#f29a00" stroke-width="2"/>`);
lframe(436,513);
A(`<rect x="135" y="523" width="111" height="78" fill="#8ccff6"/>`);
A(`<polygon points="135,601 135,580 143,565 152,585 165,590 175,575 190,560 200,545 210,535 225,532 240,548 246,560 246,601" fill="#505050"/>`);
A(`<polygon points="160,601 172,575 188,558 200,548 210,545 215,560 225,600" fill="#fff"/>`);
A(`<polygon points="175,601 195,585 205,555 212,535 225,530 235,540 246,570 246,601" fill="#8c8c8c"/>`);
A(`<polygon points="215,601 222,560 232,552 240,575 246,600" fill="#606060"/>`);
A(`<polygon points="135,601 150,590 165,601" fill="#333"/>`);
lgrid(523,601,[543,562,582]);
A(`<path d="M219,601V590M226,601V590M233,601V590M240,601V590" stroke="#ffbc00" stroke-width="2.5"/>`);
lframe(523,601);
G.innerHTML=H;
</script>
</body></html>
